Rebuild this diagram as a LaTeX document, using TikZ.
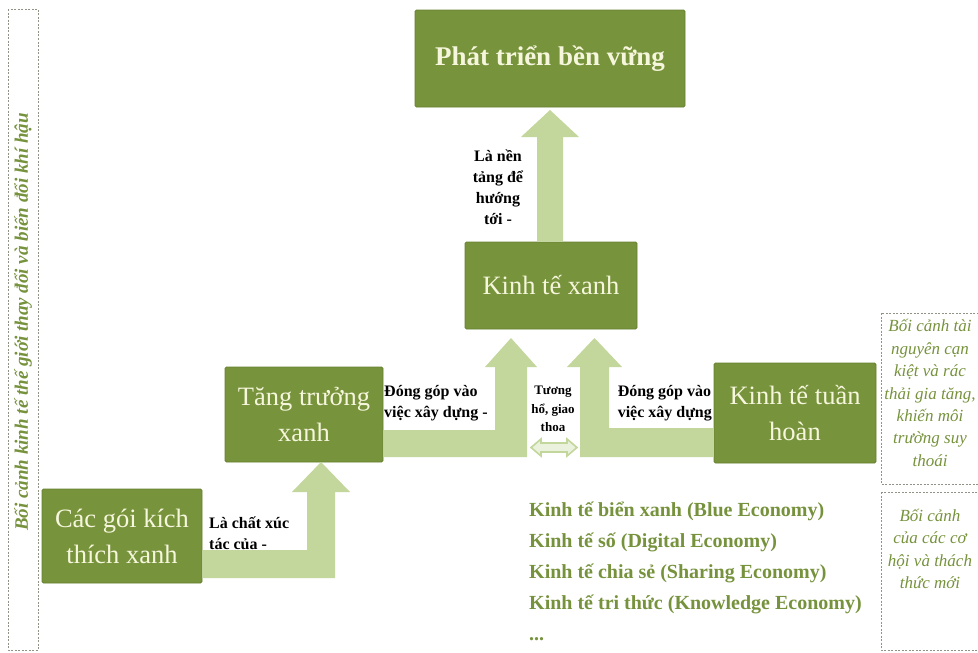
\documentclass[tikz,border=0pt]{standalone}
\usepackage{fontspec}
\setmainfont{Liberation Serif}

\definecolor{boxgreen}{HTML}{77933C}
\definecolor{boxedge}{HTML}{65802E}
\definecolor{boxtext}{HTML}{F6F6DC}
\definecolor{arrowgreen}{HTML}{C3D69B}
\definecolor{textgreen}{HTML}{76923C}
\definecolor{dashgray}{HTML}{8F9486}

\begin{document}
\begin{tikzpicture}[x=1pt, y=-1pt,
  greenbox/.style={fill=boxgreen, draw=boxedge, line width=0.8pt, rounded corners=1.5pt,
    text=boxtext, align=center, inner sep=0pt, font=\fontsize{26.5}{36}\selectfont},
  fatarrow/.style={fill=arrowgreen},
  linklabel/.style={font=\bfseries\fontsize{16}{21}\selectfont, align=center, inner sep=1pt},
  contextbox/.style={draw=dashgray, dash pattern=on 2pt off 1.5pt, line width=0.9pt},
  contexttext/.style={text=textgreen, font=\itshape\fontsize{17}{22.4}\selectfont, align=center}]

\useasboundingbox (0,0) rectangle (978,653);
\clip (0,0) rectangle (978,653);

% context frames
\draw[contextbox] (8,9) rectangle (38,650);
\node[contexttext, font=\bfseries\itshape\fontsize{19}{22}\selectfont, rotate=90] (ctxworld) at (23,322) {Bối cảnh kinh tế thế giới thay đổi và biến đổi khí hậu};

\draw[contextbox] (881,313) rectangle (995,484);
\node[contexttext] (ctxres) at (930,393) {Bối cảnh tài\\nguyên cạn\\kiệt và rác\\thải gia tăng,\\khiến môi\\trường suy\\thoái};

\draw[contextbox] (881,492) rectangle (995,650);
\node[contexttext] (ctxnew) at (930,549) {Bối cảnh\\của các cơ\\hội và thách\\thức mới};

% boxes
\node[greenbox, minimum width=270, minimum height=97, font=\bfseries\fontsize{27}{34}\selectfont] (dev) at (550,58.5) {Phát triển bền vững};
\node[greenbox, minimum width=172, minimum height=87] (xanh) at (551,285.5) {Kinh tế xanh};
\node[greenbox, minimum width=158, minimum height=95] (tang) at (304,414.5) {Tăng trưởng\\xanh};
\node[greenbox, minimum width=162, minimum height=100] (tuan) at (795,413) {Kinh tế tuần\\hoàn};
\node[greenbox, minimum width=160, minimum height=94] (goi) at (122,536) {Các gói kích\\thích xanh};

% arrows
\fill[fatarrow] (xanh.north -| 537,0) -- (537,137) -- (521,137) -- (550,110) -- (579,137) -- (563,137) -- (xanh.north -| 563,0) -- cycle;
\fill[fatarrow] (tang.east |- 0,430) -- (495,430) -- (495,367) -- (485,367) -- (511,338) -- (537,367) -- (527,367) -- (527,457) -- (tang.east |- 0,457) -- cycle;
\fill[fatarrow] (tuan.west |- 0,428) -- (609,428) -- (609,367) -- (622,367) -- (594.5,338) -- (567,367) -- (580,367) -- (580,457) -- (tuan.west |- 0,457) -- cycle;
\fill[fatarrow] (goi.east |- 0,550) -- (307,550) -- (307,492) -- (292,492) -- (321,462) -- (350,492) -- (335,492) -- (335,578) -- (goi.east |- 0,578) -- cycle;

% mutual link
\filldraw[fill=arrowgreen!35, draw=arrowgreen, line width=1.6pt, line join=miter] (531,447.5) -- (541,439) -- (541,443) -- (567,443) -- (567,439) -- (577,447.5) -- (567,456) -- (567,452) -- (541,452) -- (541,456) -- cycle;

% labels
\node[linklabel] (lbldev) at (498,187) {Là nền\\tảng để\\hướng\\tới -};
\node[linklabel, anchor=west, align=left] (lbltang) at (383,403) {Đóng góp vào\\việc xây dựng -};
\node[linklabel, anchor=east, align=left] (lbltuan) at (713,403) {Đóng góp vào\\việc xây dựng};
\node[linklabel, font=\bfseries\fontsize{13}{18.5}\selectfont] (lblmutual) at (553,409) {Tương\\hổ, giao\\thoa};
\node[linklabel, anchor=west, align=left] (lblgoi) at (208,533) {Là chất xúc\\tác của -};

% other economies
\node[anchor=west, align=left, text=textgreen, font=\bfseries\fontsize{20}{31}\selectfont, inner sep=0pt] (econlist) at (529,571) {Kinh tế biển xanh (Blue Economy)\\Kinh tế số (Digital Economy)\\Kinh tế chia sẻ (Sharing Economy)\\Kinh tế tri thức (Knowledge Economy)\\...};

\end{tikzpicture}
\end{document}
